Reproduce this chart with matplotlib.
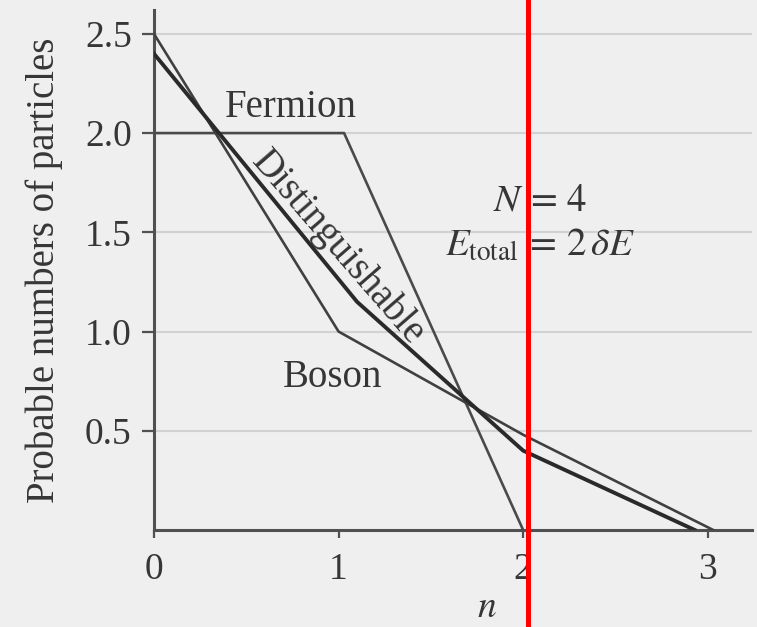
import matplotlib
matplotlib.use('Agg')
import matplotlib.pyplot as plt

plt.rcParams['font.family'] = ['Liberation Serif', 'DejaVu Serif']
plt.rcParams['mathtext.fontset'] = 'stix'

# ── data ──────────────────────────────────────────────
fermion_x = [0, 1.03, 2]
fermion_y = [2.0, 2.0, 0.0]

boson_x = [0, 1, 2, 3.03]
boson_y = [2.5, 1.0, 0.48, 0.0]

disting_x = [0, 1.1, 2, 2.93]
disting_y = [2.4, 1.15, 0.4, 0.0]

x_ticks = [0, 1, 2, 3]
y_ticks = [0.5, 1.0, 1.5, 2.0, 2.5]
y_tick_labels = ['0.5', '1.0', '1.5', '2.0', '2.5']

marker_x = 2.025   # red vertical marker

BG = '#efefef'
INK = '#363636'

fig = plt.figure(figsize=(7.57, 6.27), dpi=100, facecolor=BG)
ax = fig.add_axes([0.2034, 0.1547, 0.79, 0.8293], facecolor=BG)

for yv in y_ticks:
    ax.axhline(yv, color='#d2d2d2', lw=1.5, zorder=1)

ax.plot(fermion_x, fermion_y, color='#4a4a4a', lw=1.9, zorder=3)
ax.plot(boson_x, boson_y, color='#404040', lw=1.9, zorder=3)
ax.plot(disting_x, disting_y, color='#2a2a2a', lw=2.8, zorder=3)

ax.set_xlim(0, 3.24)
ax.set_ylim(0, 2.62)

for s in ['top', 'right']:
    ax.spines[s].set_visible(False)
for s in ['left', 'bottom']:
    ax.spines[s].set_color('#505050')
    ax.spines[s].set_linewidth(2.2)

ax.set_xticks(x_ticks)
ax.set_xticklabels([str(v) for v in x_ticks])
ax.set_yticks(y_ticks)
ax.set_yticklabels(y_tick_labels)
ax.tick_params(axis='y', length=9, width=1.6, color='#505050', pad=7,
               labelsize=27, labelcolor=INK)
ax.tick_params(axis='x', length=6, width=1.6, color='#505050', pad=10,
               labelsize=27, labelcolor=INK)

ax.set_ylabel('Probable numbers of particles', fontsize=28, color=INK, labelpad=16)
ax.set_xlabel('$n$', fontsize=27, color=INK, va='bottom')
ax.xaxis.set_label_coords(0.557, -0.183)

ax.text(0.74, 2.13, 'Fermion', fontsize=28, color=INK, ha='center', va='center')
ax.text(0.97, 0.77, 'Boson', fontsize=28, color=INK, ha='center', va='center')
ax.text(1.0, 1.42, 'Distinguishable', fontsize=28, color=INK, ha='center', va='center',
        rotation=-49, rotation_mode='anchor')
ax.text(2.09, 1.66, '$N\\,=\\,4$', fontsize=28, color=INK, ha='center', va='center')
ax.text(2.09, 1.43, '$E_{\\rm total}\\,=\\,2\\,\\delta E$', fontsize=28, color=INK,
        ha='center', va='center')

ax.axvline(marker_x, ymin=-0.2, ymax=1.05, color='red', lw=3.6, clip_on=False, zorder=10)

fig.savefig('out.png', dpi=100, facecolor=BG)
